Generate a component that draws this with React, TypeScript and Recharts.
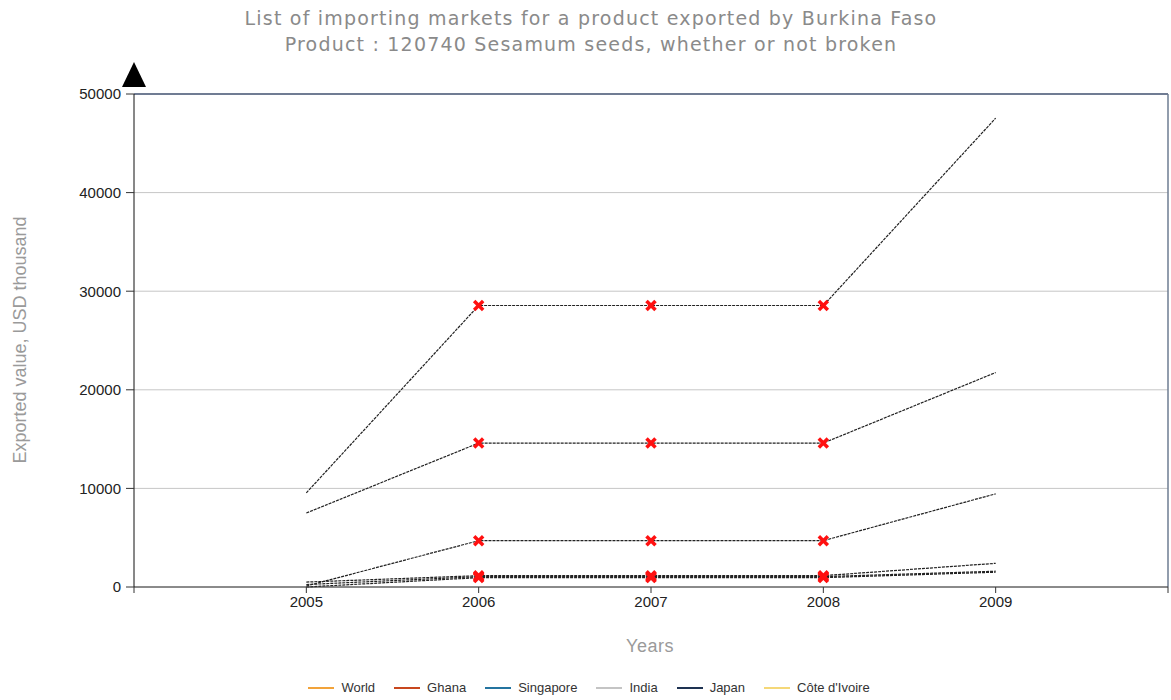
import React from "react";
import {
  LineChart,
  Line,
  XAxis,
  YAxis,
  CartesianGrid,
  ReferenceLine,
} from "recharts";

const years = [2005, 2006, 2007, 2008, 2009];
const world = [9550, 28550, 28550, 28550, 47550];
const ghana = [100, 4700, 4700, 4700, 9450];
const singapore = [7500, 14600, 14600, 14600, 21750];
const india = [500, 1150, 1150, 1150, 2400];
const japan = [250, 1050, 1050, 1050, 1600];
const coteIvoire = [0, 950, 950, 950, 1500];

const yTicks = [0, 10000, 20000, 30000, 40000, 50000];
const xTicks = [2004, 2005, 2006, 2007, 2008, 2009, 2010];

const SERIES = [
  { key: "World", values: world, color: "#f2a33a" },
  { key: "Ghana", values: ghana, color: "#c8471e" },
  { key: "Singapore", values: singapore, color: "#2474a0" },
  { key: "India", values: india, color: "#c4c4c4" },
  { key: "Japan", values: japan, color: "#1e3252" },
  { key: "Côte d'Ivoire", values: coteIvoire, color: "#f5d878" },
];

const data = years.map((year, i) => {
  const row: Record<string, number> = { year };
  SERIES.forEach((s) => {
    row[s.key] = s.values[i];
  });
  return row;
});

const FONT = "'Liberation Sans', Arial, sans-serif";
const TITLE_FONT = "'DejaVu Sans', Verdana, sans-serif";

// red cross on the middle years only
const CrossDot = (props: any) => {
  const { cx, cy, payload } = props;
  if (cx == null || cy == null || payload.year < 2006 || payload.year > 2008) {
    return <g />;
  }
  const r = 4.5;
  return (
    <g>
      <line x1={cx - r} y1={cy - r} x2={cx + r} y2={cy + r} stroke="#ff1010" strokeWidth={3.5} />
      <line x1={cx - r} y1={cy + r} x2={cx + r} y2={cy - r} stroke="#ff1010" strokeWidth={3.5} />
    </g>
  );
};

export default function App() {
  return (
    <div style={{ position: "absolute", left: 0, top: 0, width: 1171, height: 700, background: "#fff" }}>
      <LineChart
        width={1171}
        height={700}
        data={data}
        margin={{ top: 94, right: 3, left: 0, bottom: 83 }}
      >
        <CartesianGrid vertical={false} stroke="#c6c6c6" />
        <XAxis
          dataKey="year"
          type="number"
          domain={[2004, 2010]}
          ticks={xTicks}
          tickFormatter={(v) => (v === 2004 || v === 2010 ? "" : String(v))}
          height={30}
          axisLine={{ stroke: "#333" }}
          tickLine={{ stroke: "#333" }}
          tickSize={6}
          tickMargin={3}
          tick={{ fill: "#222", fontSize: 15, fontFamily: FONT }}
        />
        <YAxis
          domain={[0, 50000]}
          ticks={yTicks}
          width={134}
          axisLine={{ stroke: "#111" }}
          tickLine={{ stroke: "#333" }}
          tickSize={8}
          tickMargin={5}
          tick={{ fill: "#222", fontSize: 15, fontFamily: FONT }}
        />
        <ReferenceLine y={50000} stroke="#4a5a78" strokeWidth={1.5} />
        <ReferenceLine x={2010} stroke="#6e7c92" strokeWidth={1.5} />
        {SERIES.map((s) => (
          <Line
            key={s.key}
            dataKey={s.key}
            stroke="#222"
            strokeWidth={1.2}
            strokeDasharray="3 1"
            dot={<CrossDot />}
            activeDot={false}
            isAnimationActive={false}
          />
        ))}
      </LineChart>

      <svg
        width={1171}
        height={700}
        style={{ position: "absolute", left: 0, top: 0, pointerEvents: "none" }}
      >
        <text x={591} y={25} textAnchor="middle" fill="#8a8a8a" fontSize={19} letterSpacing={1.2} fontFamily={TITLE_FONT}>
          List of importing markets for a product exported by Burkina Faso
        </text>
        <text x={591} y={51} textAnchor="middle" fill="#8a8a8a" fontSize={19} letterSpacing={1.2} fontFamily={TITLE_FONT}>
          Product : 120740 Sesamum seeds, whether or not broken
        </text>
        <polygon points="134,62 122,87 146,87" fill="#000" />
        <text
          x={26}
          y={340}
          transform="rotate(-90 26 340)"
          textAnchor="middle"
          fill="#9a9a9a"
          fontSize={18}
          fontFamily={FONT}
        >
          Exported value, USD thousand
        </text>
        <text x={650} y={652} textAnchor="middle" fill="#9a9a9a" fontSize={18} letterSpacing={0.5} fontFamily={FONT}>
          Years
        </text>
      </svg>

      <div
        style={{
          position: "absolute",
          left: 0,
          top: 680,
          width: 1178,
          display: "flex",
          justifyContent: "center",
          gap: 19,
          fontFamily: FONT,
          fontSize: 13,
          color: "#333",
        }}
      >
        {SERIES.map((s) => (
          <div key={s.key} style={{ display: "flex", alignItems: "center", gap: 7 }}>
            <span style={{ display: "inline-block", width: 26, height: 2, background: s.color }} />
            <span>{s.key}</span>
          </div>
        ))}
      </div>
    </div>
  );
}
